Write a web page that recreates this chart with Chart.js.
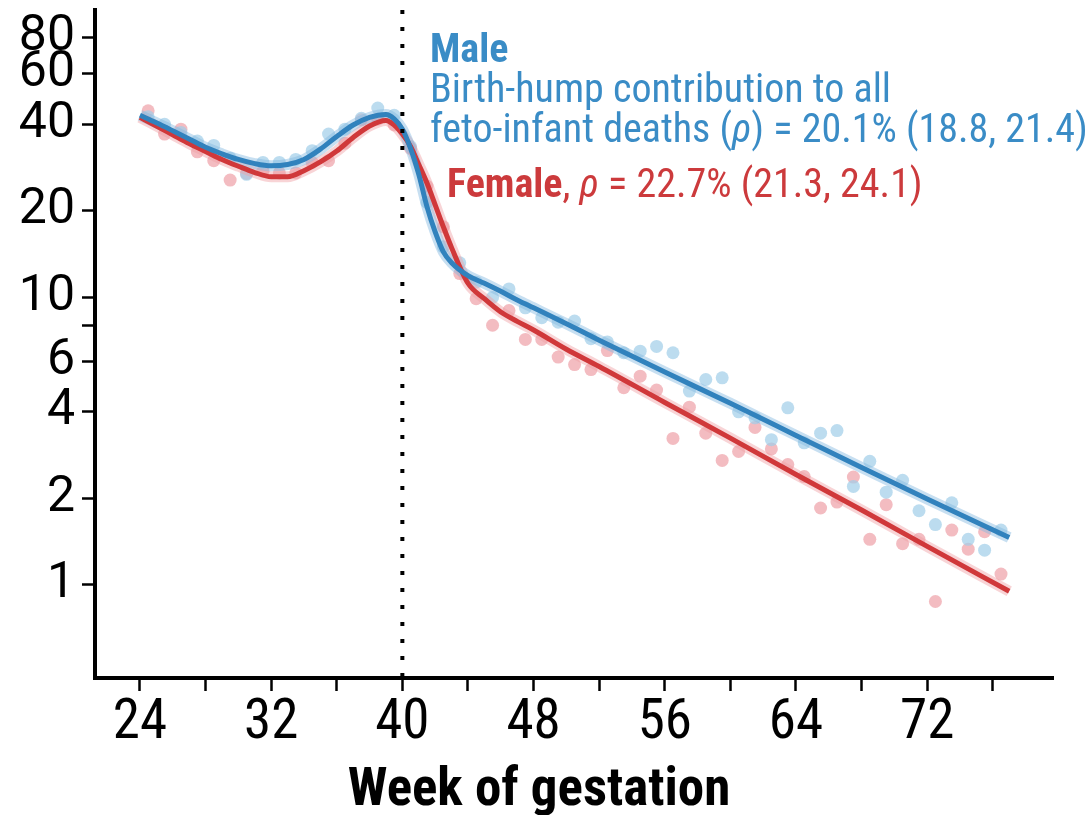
<!DOCTYPE html>
<html>
<head>
<meta charset="utf-8">
<script src="https://cdn.jsdelivr.net/npm/chart.js@4.4.1/dist/chart.umd.min.js"></script>
<style>
  body { margin: 0; background: #fff; }
  canvas { display: block; }
</style>
</head>
<body>
<canvas id="chart" width="1089" height="815"></canvas>
<script>
const dotWeeks = [24.5, 25.5, 26.5, 27.5, 28.5, 29.5, 30.5, 31.5, 32.5, 33.5, 34.5, 35.5, 36.5, 37.5, 38.5, 39.5,
    40.5, 41.5, 42.5, 43.5, 44.5, 45.5, 46.5, 47.5, 48.5, 49.5, 50.5, 51.5, 52.5, 53.5, 54.5, 55.5, 56.5, 57.5,
    58.5, 59.5, 60.5, 61.5, 62.5, 63.5, 64.5, 65.5, 66.5, 67.5, 68.5, 69.5, 70.5, 71.5, 72.5, 73.5, 74.5, 75.5, 76.5];
const maleDots = [42.5, 40.0, 37.5, 35.0, 33.8, 30.5, 26.8, 29.5, 29.5, 30.2, 32.4, 37.0, 38.5, 42.0, 45.6, 43.0,
    33.5, 21.4, 15.0, 13.2, 11.3, 10.0, 10.7, 9.2, 8.5, 8.2, 8.27, 7.18, 7.0, 6.42, 6.5, 6.75, 6.42, 4.72,
    5.18, 5.25, 4.0, 3.81, 3.2, 4.13, 3.12, 3.37, 3.44, 2.2, 2.69, 2.1, 2.31, 1.81, 1.62, 1.93, 1.44, 1.32, 1.55];
const femaleDots = [44.6, 37.0, 38.5, 32.1, 29.9, 25.6, 27.0, 27.5, 27.1, 27.1, 29.5, 29.9, 34.4, 41.5, 41.7, 39.8,
    33.0, 24.4, 17.6, 12.1, 9.9, 8.0, 9.0, 7.14, 7.14, 6.2, 5.84, 5.61, 6.53, 4.85, 5.32, 4.76, 3.23, 4.15,
    3.37, 2.71, 2.91, 3.53, 2.97, 2.62, 2.38, 1.85, 1.94, 2.37, 1.44, 1.9, 1.39, 1.44, 0.875, 1.55, 1.33, 1.53, 1.09];

const fitWeeks = [24, 25, 26, 27, 28, 29, 30, 31, 32, 33, 34, 35, 36, 37, 38, 39, 39.5, 40, 40.5, 41, 41.5, 42,
    42.5, 43, 44, 45, 46, 47, 48, 50, 52, 56, 60, 64, 68, 72, 77];
const maleFit = [43.0, 40.5, 38.0, 35.6, 33.3, 31.6, 30.2, 29.2, 28.7, 29.0, 30.2, 32.8, 36.3, 39.8, 42.3, 43.3, 41.8, 38.5, 33.0, 26.8, 20.7, 16.9,
    14.4, 13.2, 11.9, 11.2, 10.5, 9.8, 9.2, 8.1, 7.1, 5.5, 4.28, 3.31, 2.56, 1.99, 1.46];
const femaleFit = [42.3, 39.5, 36.8, 34.3, 32.2, 30.2, 28.6, 27.2, 26.3, 26.3, 27.6, 29.6, 32.3, 36.0, 39.5, 41.3, 39.8, 37.0, 33.5, 29.0, 25.0, 21.0,
    17.6, 14.9, 11.2, 9.9, 8.9, 8.25, 7.7, 6.6, 5.75, 4.31, 3.24, 2.42, 1.82, 1.36, 0.95];

const xTicks = [24, 28, 32, 36, 40, 44, 48, 52, 56, 60, 64, 68, 72, 76];
const xTickLabels = ['24', '', '32', '', '40', '', '48', '', '56', '', '64', '', '72', ''];
const yTicks = [1, 2, 4, 6, 8, 10, 20, 40, 60, 80];
const yTickLabels = ['1', '2', '4', '6', '', '10', '20', '40', '60', '80'];
const birthWeek = 40;

const BLUE = '#3182bd';
const RED = '#d0383a';
const BLUE_TEXT = '#3a8cc6';
const RED_TEXT = '#cc3a3c';
const NARROW = "'Roboto Condensed', 'Liberation Sans Narrow', 'DejaVu Sans Condensed', Roboto, sans-serif";

const pairs = (xs, ys) => xs.map((x, i) => ({ x: x, y: ys[i] }));

const overlay = {
    id: 'overlay',
    afterDatasetsDraw(chart) {
        const { ctx, chartArea, scales } = chart;
        const x = scales.x.getPixelForValue(birthWeek);
        ctx.save();
        ctx.strokeStyle = '#000';
        ctx.lineWidth = 4;
        ctx.setLineDash([4, 13]);
        ctx.beginPath();
        ctx.moveTo(x, chartArea.top);
        ctx.lineTo(x, chartArea.bottom);
        ctx.stroke();
        ctx.restore();
    },
    afterDraw(chart) {
        const ctx = chart.ctx;
        const runs = (x, y, parts) => {
            parts.forEach(([text, font, color]) => {
                ctx.font = font;
                ctx.fillStyle = color;
                ctx.fillText(text, x, y);
                x += ctx.measureText(text).width;
            });
        };
        ctx.save();
        ctx.textBaseline = 'alphabetic';
        ctx.textAlign = 'left';
        const reg = `40px ${NARROW}`, bold = `bold 40px ${NARROW}`, ital = `italic 40px ${NARROW}`;
        runs(430, 62, [['Male', bold, BLUE_TEXT]]);
        runs(430, 102, [['Birth-hump contribution to all', reg, BLUE_TEXT]]);
        runs(430, 142, [['feto-infant deaths (', reg, BLUE_TEXT], ['\u03C1', ital, BLUE_TEXT], [') = 20.1% (18.8, 21.4)', reg, BLUE_TEXT]]);
        runs(447, 197, [['Female', bold, RED_TEXT], [', ', reg, RED_TEXT], ['\u03C1', ital, RED_TEXT], [' = 22.7% (21.3, 24.1)', reg, RED_TEXT]]);

        ctx.font = `bold 53px ${NARROW}`;
        ctx.fillStyle = '#000';
        ctx.textAlign = 'center';
        ctx.fillText('Week of gestation', 539, 805);
        ctx.restore();
    }
};

new Chart(document.getElementById('chart'), {
    type: 'scatter',
    data: {
        datasets: [
            { type: 'line', data: pairs(fitWeeks, maleFit), borderColor: BLUE, borderWidth: 5, pointRadius: 0, cubicInterpolationMode: 'monotone', order: 0 },
            { type: 'line', data: pairs(fitWeeks, femaleFit), borderColor: RED, borderWidth: 5, pointRadius: 0, cubicInterpolationMode: 'monotone', order: 0 },
            { type: 'line', data: pairs(fitWeeks, maleFit), borderColor: 'rgba(130,185,225,0.45)', borderWidth: 11, pointRadius: 0, cubicInterpolationMode: 'monotone', order: 1 },
            { type: 'line', data: pairs(fitWeeks, femaleFit), borderColor: 'rgba(240,160,165,0.45)', borderWidth: 11, pointRadius: 0, cubicInterpolationMode: 'monotone', order: 1 },
            { data: pairs(dotWeeks, maleDots), backgroundColor: 'rgba(160,205,232,0.7)', borderWidth: 0, pointRadius: 6.5, order: 2 },
            { data: pairs(dotWeeks, femaleDots), backgroundColor: 'rgba(238,160,166,0.7)', borderWidth: 0, pointRadius: 6.5, order: 2 }
        ]
    },
    options: {
        responsive: false,
        animation: false,
        layout: { padding: { top: 10, right: 36, left: 0, bottom: 0 } },
        plugins: { legend: { display: false }, tooltip: { enabled: false } },
        scales: {
            x: {
                type: 'linear',
                min: 21.26,
                max: 79.67,
                afterFit: s => { s.height = 137; s.paddingLeft = 0; s.paddingRight = 0; },
                afterBuildTicks: s => { s.ticks = xTicks.map(v => ({ value: v })); },
                ticks: {
                    autoSkip: false,
                    maxRotation: 0,
                    padding: 0,
                    color: '#000',
                    font: { family: NARROW, size: 55 },
                    callback: (v, i) => xTickLabels[i]
                },
                grid: { drawOnChartArea: false, tickLength: 13, tickWidth: 2.5, tickColor: '#000' },
                border: { color: '#000', width: 4 }
            },
            y: {
                type: 'logarithmic',
                min: 0.474,
                max: 100,
                afterFit: s => { s.width = 95; s.paddingTop = 0; s.paddingBottom = 0; },
                afterBuildTicks: s => { s.ticks = yTicks.map(v => ({ value: v })); },
                ticks: {
                    autoSkip: false,
                    padding: 7,
                    color: '#000',
                    font: { family: 'Roboto', size: 50 },
                    callback: (v, i) => yTickLabels[i]
                },
                grid: { drawOnChartArea: false, tickLength: 13, tickWidth: 2.5, tickColor: '#000' },
                border: { color: '#000', width: 4 }
            }
        }
    },
    plugins: [overlay]
});
</script>
</body>
</html>
